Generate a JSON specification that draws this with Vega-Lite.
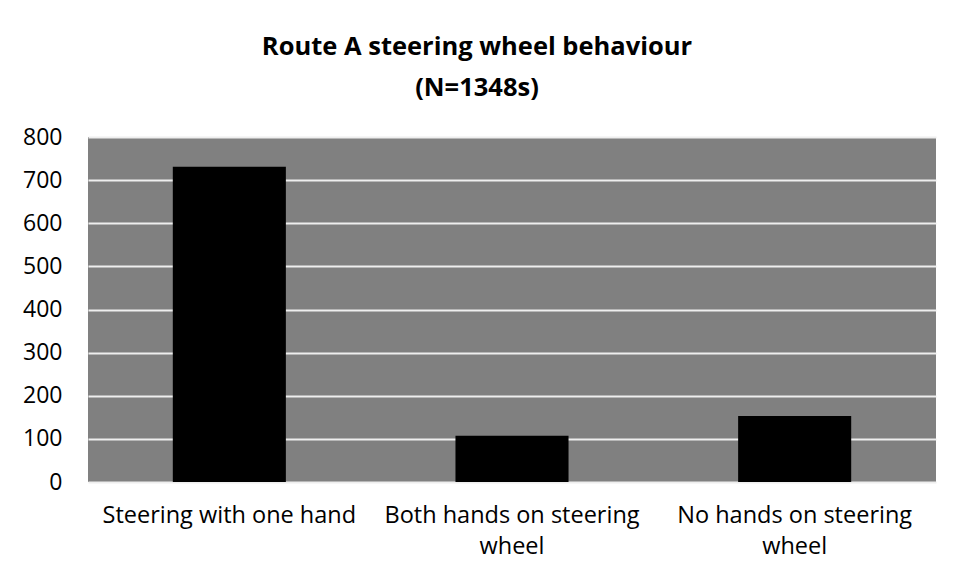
{
  "$schema": "https://vega.github.io/schema/vega-lite/v6.json",
  "autosize": {"type": "none"},
  "width": 848,
  "height": 345,
  "padding": {"left": 88, "top": 137, "right": 18, "bottom": 95},
  "background": "white",
  "title": {
    "text": ["Route A steering wheel behaviour", "(N=1348s)"],
    "font": "Open Sans",
    "fontSize": 25.5,
    "fontWeight": "bold",
    "color": "black",
    "lineHeight": 41,
    "anchor": "middle",
    "dx": -35,
    "offset": 25
  },
  "data": {
    "values": [
      {"category": "Steering with one hand", "value": 731},
      {"category": "Both hands on steering wheel", "value": 107},
      {"category": "No hands on steering wheel", "value": 153}
    ]
  },
  "mark": {"type": "bar", "color": "black"},
  "encoding": {
    "x": {
      "field": "category",
      "type": "nominal",
      "sort": null,
      "scale": {"paddingInner": 0.6, "paddingOuter": 0.3},
      "axis": {
        "title": null,
        "labelAngle": 0,
        "domain": false,
        "ticks": false,
        "labelFont": "Open Sans",
        "labelFontSize": 23.5,
        "labelColor": "black",
        "labelPadding": 21,
        "labelLineHeight": 31,
        "labelLimit": 300,
        "labelExpr": "datum.label == 'Both hands on steering wheel' ? ['Both hands on steering', 'wheel'] : datum.label == 'No hands on steering wheel' ? ['No hands on steering', 'wheel'] : datum.label"
      }
    },
    "y": {
      "field": "value",
      "type": "quantitative",
      "scale": {"domain": [0, 800], "nice": false},
      "axis": {
        "title": null,
        "values": [0, 100, 200, 300, 400, 500, 600, 700, 800],
        "domain": false,
        "ticks": false,
        "labelFont": "Open Sans",
        "labelFontSize": 23,
        "labelColor": "black",
        "labelPadding": 26,
        "gridColor": "#eeeeee",
        "gridWidth": 2,
        "gridOpacity": 1
      }
    }
  },
  "config": {
    "view": {"fill": "#808080", "stroke": null}
  }
}
